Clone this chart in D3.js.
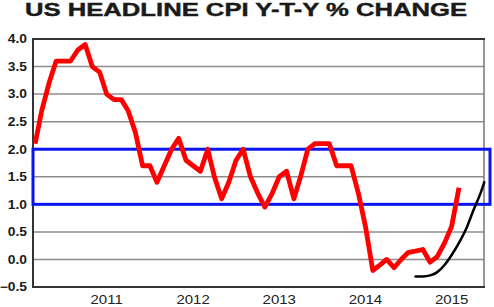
<!DOCTYPE html>
<html>
<head>
<meta charset="utf-8">
<script src="https://cdn.jsdelivr.net/npm/d3@7"></script>
<style>
  body { margin: 0; background: #fff; }
  svg { display: block; }
  text { font-family: "Liberation Sans", Arial, sans-serif; fill: #1a1a1a; }
</style>
</head>
<body>
<div id="chart"></div>
<script>
// monthly CPI y/y % change
var months = [
  '2011-02','2011-03','2011-04','2011-05','2011-06','2011-07','2011-08','2011-09','2011-10','2011-11','2011-12',
  '2012-01','2012-02','2012-03','2012-04','2012-05','2012-06','2012-07','2012-08','2012-09','2012-10','2012-11','2012-12',
  '2013-01','2013-02','2013-03','2013-04','2013-05','2013-06','2013-07','2013-08','2013-09','2013-10','2013-11','2013-12',
  '2014-01','2014-02','2014-03','2014-04','2014-05','2014-06','2014-07','2014-08','2014-09','2014-10','2014-11','2014-12',
  '2015-01','2015-02','2015-03','2015-04','2015-05','2015-06','2015-07','2015-08','2015-09','2015-10','2015-11','2015-12',
  '2016-01'];
var cpi = [
  2.1, 2.7, 3.2, 3.6, 3.6, 3.6, 3.8, 3.9, 3.5, 3.4, 3.0,
  2.9, 2.9, 2.7, 2.3, 1.7, 1.7, 1.4, 1.7, 2.0, 2.2, 1.8, 1.7,
  1.6, 2.0, 1.5, 1.1, 1.4, 1.8, 2.0, 1.5, 1.2, 0.95, 1.2, 1.5,
  1.6, 1.1, 1.5, 2.0, 2.1, 2.1, 2.1, 1.7, 1.7, 1.7, 1.2, 0.6,
  -0.2, -0.1, 0.0, -0.15, 0.0, 0.13, 0.15, 0.18, -0.05, 0.05, 0.3, 0.6,
  1.3];

// projected path (black curve)
var projMonths = ['2015-07','2015-08','2015-09','2015-10','2015-11','2015-12','2016-01','2016-02','2016-03','2016-04','2016-04-17'];
var projValues = [-0.31, -0.31, -0.29, -0.23, -0.1, 0.08, 0.3, 0.56, 0.88, 1.2, 1.4];

var bandLow = 1.0, bandHigh = 2.0;
var yTicks = [4.0, 3.5, 3.0, 2.5, 2.0, 1.5, 1.0, 0.5, 0.0, -0.5];
var yearLabels = ['2011', '2012', '2013', '2014', '2015'];

var width = 494, height = 307;
var plot = {left: 33, right: 484, top: 39, bottom: 287};
var parse = function(s) { return s.length > 7 ? d3.timeParse('%Y-%m-%d')(s) : d3.timeParse('%Y-%m')(s); };

var svg = d3.select('#chart').append('svg')
    .attr('width', width)
    .attr('height', height);

var x = d3.scaleTime()
    .domain([new Date(2011, 0, 23), new Date(2016, 3, 16)])
    .range([plot.left, plot.right]);
var y = d3.scaleLinear().domain([-0.5, 4.0]).range([plot.bottom, plot.top]);

// stretch text horizontally like the original
function stretch(sel, k) {
  sel.each(function() {
    var w = this.getComputedTextLength();
    d3.select(this).attr('textLength', w * k).attr('lengthAdjust', 'spacingAndGlyphs');
  });
}

// title
svg.append('text')
    .attr('x', 246).attr('y', 15.5)
    .attr('text-anchor', 'middle')
    .style('font-weight', 'bold')
    .style('font-size', '17.5px')
    .style('stroke', '#1a1a1a')
    .style('stroke-width', 0.4)
    .text('US HEADLINE CPI Y-T-Y % CHANGE')
    .attr('textLength', 442)
    .attr('lengthAdjust', 'spacingAndGlyphs');

// grid lines
svg.append('g')
  .selectAll('line')
  .data(yTicks.filter(function(d) { return d > -0.5 && d < 4.0; }))
  .join('line')
    .attr('x1', plot.left).attr('x2', plot.right)
    .attr('y1', function(d) { return y(d); })
    .attr('y2', function(d) { return y(d); })
    .attr('stroke', '#8c8c8c')
    .attr('stroke-width', 1.5);

// frame
svg.append('line').attr('x1', plot.right).attr('x2', plot.right).attr('y1', plot.top).attr('y2', plot.bottom)
    .attr('stroke', '#777').attr('stroke-width', 1.5);
svg.append('line').attr('x1', plot.left - 1).attr('x2', plot.right + 1).attr('y1', plot.top).attr('y2', plot.top)
    .attr('stroke', '#333').attr('stroke-width', 2);
svg.append('line').attr('x1', plot.left - 1).attr('x2', plot.right + 1).attr('y1', plot.bottom).attr('y2', plot.bottom)
    .attr('stroke', '#333').attr('stroke-width', 2);
svg.append('line').attr('x1', plot.left).attr('x2', plot.left).attr('y1', plot.top).attr('y2', plot.bottom)
    .attr('stroke', '#333').attr('stroke-width', 2);

// y labels
svg.append('g')
  .selectAll('text')
  .data(yTicks)
  .join('text')
    .attr('x', 27)
    .attr('y', function(d) { return y(d); })
    .attr('dy', '0.36em')
    .attr('text-anchor', 'end')
    .style('font-weight', 'bold')
    .style('font-size', '12px')
    .text(function(d) { return d3.format('.1f')(d); })
    .call(stretch, 1.15);

// x labels, sitting near the end of each year
svg.append('g')
  .selectAll('text')
  .data(yearLabels)
  .join('text')
    .attr('x', function(d) { return x(new Date(+d, 11, 1)); })
    .attr('y', 304)
    .attr('text-anchor', 'middle')
    .style('font-size', '12.5px')
    .style('fill', '#222')
    .text(function(d) { return d; })
    .call(stretch, 1.2);

// target band
svg.append('rect')
    .attr('x', plot.left)
    .attr('y', y(bandHigh))
    .attr('width', 490 - plot.left)
    .attr('height', y(bandLow) - y(bandHigh))
    .attr('fill', 'none')
    .attr('stroke', '#0a14f0')
    .attr('stroke-width', 3);

// cpi line
var series = months.map(function(m, i) { return {date: parse(m), value: cpi[i]}; });
var line = d3.line()
    .x(function(d) { return x(d.date); })
    .y(function(d) { return y(d.value); });

svg.append('path')
    .datum(series)
    .attr('d', line)
    .attr('fill', 'none')
    .attr('stroke', '#ff0000')
    .attr('stroke-width', 4.8)
    .attr('stroke-linejoin', 'round');

// projection curve
var proj = projMonths.map(function(m, i) { return {date: parse(m), value: projValues[i]}; });
svg.append('path')
    .datum(proj)
    .attr('d', line.curve(d3.curveMonotoneX))
    .attr('fill', 'none')
    .attr('stroke', '#000')
    .attr('stroke-width', 2.5)
    .attr('stroke-linecap', 'round');
</script>
</body>
</html>
